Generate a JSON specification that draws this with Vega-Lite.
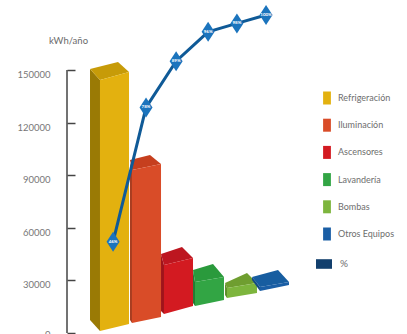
{
  "$schema": "https://vega.github.io/schema/vega-lite/v6.json",
  "width": 340,
  "height": 334,
  "autosize": {"type": "none"},
  "padding": {"left": 67, "top": 0, "right": 0, "bottom": 0},
  "background": "white",
  "config": {"view": {"stroke": null}, "font": "Lato"},
  "datasets": {
    "caras": [
      {"pieza":"Refrigeración lateral","n":1,"pos":0.719,"kwh":150559},{"pieza":"Refrigeración lateral","n":2,"pos":1.031,"kwh":144286},{"pieza":"Refrigeración lateral","n":3,"pos":1.031,"kwh":1141},{"pieza":"Refrigeración lateral","n":4,"pos":0.719,"kwh":7414},
      {"pieza":"Refrigeración superior","n":1,"pos":0.719,"kwh":150559},{"pieza":"Refrigeración superior","n":2,"pos":1.594,"kwh":154551},{"pieza":"Refrigeración superior","n":3,"pos":1.938,"kwh":148848},{"pieza":"Refrigeración superior","n":4,"pos":1.031,"kwh":144286},
      {"pieza":"Refrigeración","n":1,"pos":1.031,"kwh":144286},{"pieza":"Refrigeración","n":2,"pos":1.938,"kwh":148848},{"pieza":"Refrigeración","n":3,"pos":1.938,"kwh":5133},{"pieza":"Refrigeración","n":4,"pos":1.031,"kwh":1141},
      {"pieza":"Iluminación lateral","n":1,"pos":1.969,"kwh":96951},{"pieza":"Iluminación lateral","n":2,"pos":2.031,"kwh":92959},{"pieza":"Iluminación lateral","n":3,"pos":2.031,"kwh":5703},{"pieza":"Iluminación lateral","n":4,"pos":1.969,"kwh":7414},
      {"pieza":"Iluminación superior","n":1,"pos":1.969,"kwh":98662},{"pieza":"Iluminación superior","n":2,"pos":2.594,"kwh":101513},{"pieza":"Iluminación superior","n":3,"pos":2.938,"kwh":96381},{"pieza":"Iluminación superior","n":4,"pos":2.031,"kwh":92959},
      {"pieza":"Iluminación","n":1,"pos":2.031,"kwh":92959},{"pieza":"Iluminación","n":2,"pos":2.938,"kwh":96381},{"pieza":"Iluminación","n":3,"pos":2.938,"kwh":9125},{"pieza":"Iluminación","n":4,"pos":2.031,"kwh":5703},
      {"pieza":"Ascensores lateral","n":1,"pos":2.938,"kwh":45054},{"pieza":"Ascensores lateral","n":2,"pos":3.031,"kwh":38780},{"pieza":"Ascensores lateral","n":3,"pos":3.031,"kwh":10836},{"pieza":"Ascensores lateral","n":4,"pos":2.938,"kwh":12547},
      {"pieza":"Ascensores superior","n":1,"pos":2.938,"kwh":45054},{"pieza":"Ascensores superior","n":2,"pos":3.594,"kwh":49046},{"pieza":"Ascensores superior","n":3,"pos":3.938,"kwh":42773},{"pieza":"Ascensores superior","n":4,"pos":3.031,"kwh":38780},
      {"pieza":"Ascensores","n":1,"pos":3.031,"kwh":38780},{"pieza":"Ascensores","n":2,"pos":3.938,"kwh":42773},{"pieza":"Ascensores","n":3,"pos":3.938,"kwh":15398},{"pieza":"Ascensores","n":4,"pos":3.031,"kwh":10836},
      {"pieza":"Lavandería lateral","n":1,"pos":3.938,"kwh":35929},{"pieza":"Lavandería lateral","n":2,"pos":4.0,"kwh":29085},{"pieza":"Lavandería lateral","n":3,"pos":4.0,"kwh":15398},{"pieza":"Lavandería lateral","n":4,"pos":3.938,"kwh":17109},
      {"pieza":"Lavandería superior","n":1,"pos":3.938,"kwh":35929},{"pieza":"Lavandería superior","n":2,"pos":4.563,"kwh":39351},{"pieza":"Lavandería superior","n":3,"pos":4.906,"kwh":31937},{"pieza":"Lavandería superior","n":4,"pos":4.0,"kwh":29085},
      {"pieza":"Lavandería","n":1,"pos":4.0,"kwh":29085},{"pieza":"Lavandería","n":2,"pos":4.906,"kwh":31937},{"pieza":"Lavandería","n":3,"pos":4.906,"kwh":18820},{"pieza":"Lavandería","n":4,"pos":4.0,"kwh":15398},
      {"pieza":"Bombas lateral","n":1,"pos":4.938,"kwh":28515},{"pieza":"Bombas lateral","n":2,"pos":5.0,"kwh":25664},{"pieza":"Bombas lateral","n":3,"pos":5.0,"kwh":19961},{"pieza":"Bombas lateral","n":4,"pos":4.938,"kwh":21671},
      {"pieza":"Bombas superior","n":1,"pos":4.938,"kwh":28515},{"pieza":"Bombas superior","n":2,"pos":5.625,"kwh":34220},{"pieza":"Bombas superior","n":3,"pos":5.938,"kwh":28515},{"pieza":"Bombas superior","n":4,"pos":5.0,"kwh":25664},
      {"pieza":"Bombas","n":1,"pos":5.0,"kwh":25664},{"pieza":"Bombas","n":2,"pos":5.938,"kwh":28515},{"pieza":"Bombas","n":3,"pos":5.938,"kwh":22812},{"pieza":"Bombas","n":4,"pos":5.0,"kwh":19961},
      {"pieza":"Otros Equipos lateral","n":1,"pos":5.781,"kwh":31937},{"pieza":"Otros Equipos lateral","n":2,"pos":6.03,"kwh":26234},{"pieza":"Otros Equipos lateral","n":3,"pos":6.03,"kwh":23953},{"pieza":"Otros Equipos lateral","n":4,"pos":5.781,"kwh":30226},
      {"pieza":"Otros Equipos superior","n":1,"pos":5.781,"kwh":31937},{"pieza":"Otros Equipos superior","n":2,"pos":6.594,"kwh":35929},{"pieza":"Otros Equipos superior","n":3,"pos":6.938,"kwh":29085},{"pieza":"Otros Equipos superior","n":4,"pos":6.03,"kwh":26234},
      {"pieza":"Otros Equipos","n":1,"pos":6.03,"kwh":26234},{"pieza":"Otros Equipos","n":2,"pos":6.938,"kwh":29085},{"pieza":"Otros Equipos","n":3,"pos":6.938,"kwh":27374},{"pieza":"Otros Equipos","n":4,"pos":6.03,"kwh":23953}
    ],
    "acumulado": [
      {"uso":"Refrigeración","pos":1.44,"pct":46,"serie":"%","rotulo":"46%"},
      {"uso":"Iluminación","pos":2.47,"pct":78,"serie":"%","rotulo":"78%"},
      {"uso":"Ascensores","pos":3.41,"pct":89,"serie":"%","rotulo":"89%"},
      {"uso":"Lavandería","pos":4.41,"pct":96,"serie":"%","rotulo":"96%"},
      {"uso":"Bombas","pos":5.31,"pct":98,"serie":"%","rotulo":"98%"},
      {"uso":"Otros Equipos","pos":6.22,"pct":100,"serie":"%","rotulo":"100%"}
    ]
  },
  "resolve": {"scale": {"y": "independent", "fill": "independent"}},
  "layer": [
    {
      "data": {"values": [{"desde": 0, "hasta": 150000}]},
      "mark": {"type": "rule", "stroke": "#444444", "strokeWidth": 1.5},
      "encoding": {
        "x": {"datum": 0, "type": "quantitative", "scale": {"domain": [0, 10.625]}, "axis": null},
        "y": {
          "field": "desde", "type": "quantitative",
          "scale": {"domain": [-570, 189910], "nice": false, "zero": false},
          "axis": {
            "values": [0, 30000, 60000, 90000, 120000, 150000],
            "format": "d", "domain": false, "grid": false,
            "tickSize": -8, "tickWidth": 1.5, "tickColor": "#444444",
            "labelColor": "#777777", "labelFontSize": 9.5, "labelPadding": 25,
            "labelOffset": {"condition": {"test": "datum.value === 0", "value": 1.5}, "value": 4.5},
            "labelFont": "Lato", "labelBound": false, "labelOverlap": false,
            "title": "kWh/año", "titleFontWeight": "normal", "titleFontSize": 9.5,
            "titleColor": "#6a6a6a", "titleFont": "Lato", "titleAngle": 0,
            "titleX": 1, "titleY": 40, "titleAlign": "center", "titleBaseline": "middle"
          }
        },
        "y2": {"field": "hasta"}
      }
    },
    {
      "data": {"name": "caras"},
      "mark": {"type": "line", "strokeWidth": 0, "stroke": null, "clip": false},
      "encoding": {
        "x": {"field": "pos", "type": "quantitative", "scale": {"domain": [0, 10.625]}, "axis": null},
        "y": {"field": "kwh", "type": "quantitative", "scale": {"domain": [-570, 189910], "nice": false, "zero": false}, "axis": null},
        "order": {"field": "n", "type": "quantitative"},
        "detail": {"field": "pieza"},
        "fill": {
          "field": "pieza", "type": "nominal",
          "scale": {
            "domain": ["Refrigeración","Iluminación","Ascensores","Lavandería","Bombas","Otros Equipos","Refrigeración lateral","Refrigeración superior","Iluminación lateral","Iluminación superior","Ascensores lateral","Ascensores superior","Lavandería lateral","Lavandería superior","Bombas lateral","Bombas superior","Otros Equipos lateral","Otros Equipos superior"],
            "range": ["#e3b10f","#d94c28","#d31a21","#32a544","#7db53d","#1a5ea5","#9a7a05","#c79b08","#a83c20","#c63f1e","#a0141a","#bd1620","#237a32","#2a9a3c","#5e8f2b","#6f9e30","#134a85","#175da0"]
          },
          "legend": {
            "values": ["Refrigeración","Iluminación","Ascensores","Lavandería","Bombas","Otros Equipos"],
            "title": null, "orient": "none", "legendX": 253.5, "legendY": 91.5,
            "padding": 0, "symbolType": "M-0.6,-1H0.6V1H-0.6Z", "symbolSize": 169,
            "symbolStrokeWidth": 0, "labelOffset": 4.5, "rowPadding": 14.2,
            "labelFont": "Lato", "labelFontSize": 9, "labelColor": "#6e6e6e",
            "encode": {"symbols": {"update": {"fill": {"signal": "{'Refrigeración':'#fcc010','Iluminación':'#f58233','Ascensores':'#ee1c25','Lavandería':'#2fb04a','Bombas':'#8dc63f','Otros Equipos':'#1b75bc'}[datum.value]"}}}}
          }
        }
      }
    },
    {
      "data": {"name": "acumulado"},
      "mark": {"type": "line", "strokeWidth": 3},
      "encoding": {
        "x": {"field": "pos", "type": "quantitative", "scale": {"domain": [0, 10.625]}, "axis": null},
        "y": {"field": "pct", "type": "quantitative", "scale": {"domain": [24.048, 103.571], "nice": false, "zero": false}, "axis": null},
        "stroke": {
          "field": "serie", "type": "nominal",
          "scale": {"domain": ["%"], "range": ["#0f5a97"]},
          "legend": {
            "title": null, "orient": "none", "legendX": 249, "legendY": 256,
            "padding": 0, "symbolType": "M-1,-0.6H1V0.6H-1Z", "symbolSize": 256,
            "labelOffset": 8, "labelFont": "Lato", "labelFontSize": 10, "labelColor": "#6e6e6e",
            "encode": {"symbols": {"update": {"fill": {"value": "#123f6d"}, "stroke": {"value": "#123f6d"}, "strokeWidth": {"value": 0}}}}
          }
        }
      }
    },
    {
      "data": {"name": "acumulado"},
      "mark": {"type": "point", "filled": true, "opacity": 1, "shape": "M0,-1L0.65,0L0,1L-0.65,0Z", "size": 400, "color": "#1b74bd"},
      "encoding": {
        "x": {"field": "pos", "type": "quantitative", "scale": {"domain": [0, 10.625]}, "axis": null},
        "y": {"field": "pct", "type": "quantitative", "scale": {"domain": [24.048, 103.571], "nice": false, "zero": false}, "axis": null}
      }
    },
    {
      "data": {"name": "acumulado"},
      "mark": {"type": "text", "color": "white", "fontSize": 4.5, "fontWeight": "bold", "font": "Lato"},
      "encoding": {
        "x": {"field": "pos", "type": "quantitative", "scale": {"domain": [0, 10.625]}, "axis": null},
        "y": {"field": "pct", "type": "quantitative", "scale": {"domain": [24.048, 103.571], "nice": false, "zero": false}, "axis": null},
        "text": {"field": "rotulo"}
      }
    }
  ]
}
